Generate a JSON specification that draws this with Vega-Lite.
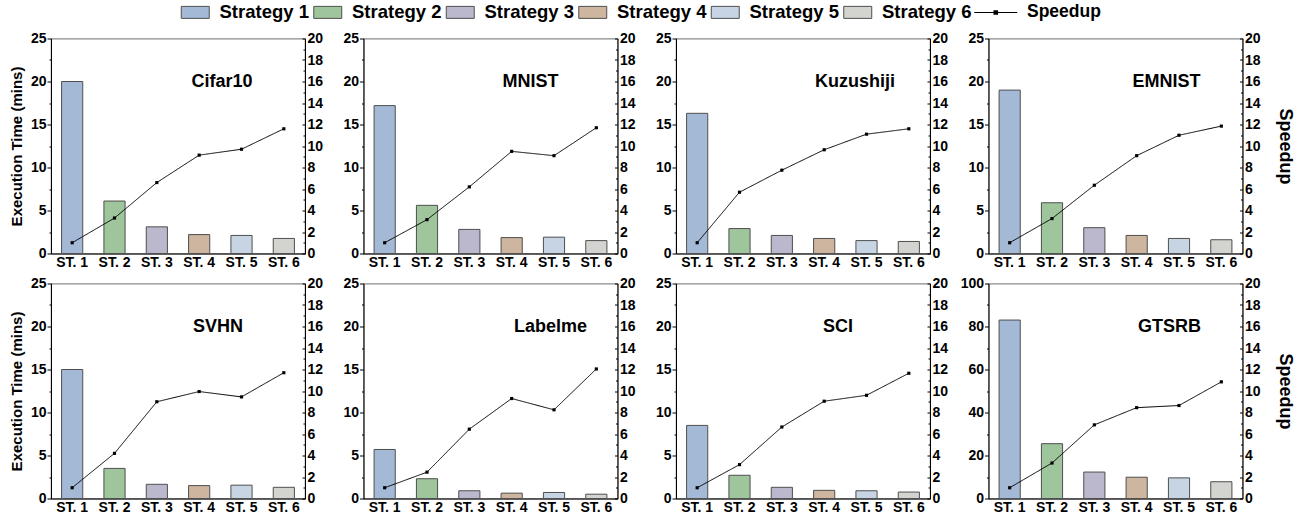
{
"$schema": "https://vega.github.io/schema/vega-lite/v6.json",
"padding": {"left": 8, "top": 2.5, "right": 5, "bottom": 5},
"data": {"values": [
{"ds":"Cifar10","st":"ST. 1","time":20.0,"speedup":1.0},
{"ds":"Cifar10","st":"ST. 2","time":6.1,"speedup":3.3},
{"ds":"Cifar10","st":"ST. 3","time":3.1,"speedup":6.6},
{"ds":"Cifar10","st":"ST. 4","time":2.2,"speedup":9.15},
{"ds":"Cifar10","st":"ST. 5","time":2.1,"speedup":9.7},
{"ds":"Cifar10","st":"ST. 6","time":1.75,"speedup":11.6},
{"ds":"MNIST","st":"ST. 1","time":17.2,"speedup":1.0},
{"ds":"MNIST","st":"ST. 2","time":5.6,"speedup":3.15},
{"ds":"MNIST","st":"ST. 3","time":2.8,"speedup":6.2},
{"ds":"MNIST","st":"ST. 4","time":1.85,"speedup":9.5},
{"ds":"MNIST","st":"ST. 5","time":1.9,"speedup":9.1},
{"ds":"MNIST","st":"ST. 6","time":1.5,"speedup":11.7},
{"ds":"Kuzushiji","st":"ST. 1","time":16.3,"speedup":1.0},
{"ds":"Kuzushiji","st":"ST. 2","time":2.9,"speedup":5.7},
{"ds":"Kuzushiji","st":"ST. 3","time":2.1,"speedup":7.75},
{"ds":"Kuzushiji","st":"ST. 4","time":1.75,"speedup":9.65},
{"ds":"Kuzushiji","st":"ST. 5","time":1.5,"speedup":11.1},
{"ds":"Kuzushiji","st":"ST. 6","time":1.4,"speedup":11.6},
{"ds":"EMNIST","st":"ST. 1","time":19.0,"speedup":1.0},
{"ds":"EMNIST","st":"ST. 2","time":5.9,"speedup":3.25},
{"ds":"EMNIST","st":"ST. 3","time":3.0,"speedup":6.35},
{"ds":"EMNIST","st":"ST. 4","time":2.1,"speedup":9.1},
{"ds":"EMNIST","st":"ST. 5","time":1.75,"speedup":11.0},
{"ds":"EMNIST","st":"ST. 6","time":1.6,"speedup":11.85},
{"ds":"SVHN","st":"ST. 1","time":15.0,"speedup":1.0},
{"ds":"SVHN","st":"ST. 2","time":3.5,"speedup":4.2},
{"ds":"SVHN","st":"ST. 3","time":1.65,"speedup":9.0},
{"ds":"SVHN","st":"ST. 4","time":1.5,"speedup":9.95},
{"ds":"SVHN","st":"ST. 5","time":1.55,"speedup":9.45},
{"ds":"SVHN","st":"ST. 6","time":1.3,"speedup":11.7},
{"ds":"Labelme","st":"ST. 1","time":5.7,"speedup":1.0},
{"ds":"Labelme","st":"ST. 2","time":2.3,"speedup":2.45},
{"ds":"Labelme","st":"ST. 3","time":0.9,"speedup":6.45},
{"ds":"Labelme","st":"ST. 4","time":0.62,"speedup":9.3},
{"ds":"Labelme","st":"ST. 5","time":0.7,"speedup":8.25},
{"ds":"Labelme","st":"ST. 6","time":0.5,"speedup":12.05},
{"ds":"SCI","st":"ST. 1","time":8.5,"speedup":1.0},
{"ds":"SCI","st":"ST. 2","time":2.7,"speedup":3.15},
{"ds":"SCI","st":"ST. 3","time":1.3,"speedup":6.65},
{"ds":"SCI","st":"ST. 4","time":0.95,"speedup":9.05},
{"ds":"SCI","st":"ST. 5","time":0.9,"speedup":9.6},
{"ds":"SCI","st":"ST. 6","time":0.75,"speedup":11.65},
{"ds":"GTSRB","st":"ST. 1","time":83.0,"speedup":1.0},
{"ds":"GTSRB","st":"ST. 2","time":25.5,"speedup":3.3},
{"ds":"GTSRB","st":"ST. 3","time":12.3,"speedup":6.85},
{"ds":"GTSRB","st":"ST. 4","time":9.9,"speedup":8.45},
{"ds":"GTSRB","st":"ST. 5","time":9.6,"speedup":8.65},
{"ds":"GTSRB","st":"ST. 6","time":7.8,"speedup":10.85}
]},
"bounds": "flush",
"columns": 4,
"spacing": {"row": 30, "column": 58.5},
"concat": [
{"width":254,"height":215,"title":{"text":"Cifar10","dx":44,"offset":-59},
 "transform":[{"filter":"datum.ds === 'Cifar10'"}],
 "layer":[
  {"mark":{"type":"bar","stroke":"#4f4f4f","strokeWidth":1},
   "encoding":{"x":{"field":"st","type":"nominal","scale":{"paddingInner":0.5,"paddingOuter":0.25}},
    "y":{"field":"time","type":"quantitative","scale":{"domain":[0,25],"nice":false},"axis":{"values":[0,5,10,15,20,25],"title":"Execution Time (mins)"}},
    "color":{"field":"st","type":"nominal","scale":{"domain":["ST. 1","ST. 2","ST. 3","ST. 4","ST. 5","ST. 6"],"range":["#a4b9d6","#9ec59b","#bbb7cc","#cdb59f","#c6d4e4","#d3d3cf"]},
     "legend":{"title":null,"orient":"none","legendX":135,"legendY":-35.5,"direction":"horizontal","labelExpr":"'Strategy ' + slice(datum.label, 4)","symbolType":"M-2.333,-1H2.333V1H-2.333Z","symbolSize":144,"symbolStrokeColor":"#4f4f4f","symbolStrokeWidth":1,"symbolOpacity":1,"labelOffset":15,"labelFontSize":18.5,"columnPadding":2.5,"padding":0}}}},
  {"mark":{"type":"line","color":"#000","strokeWidth":1,"point":{"shape":"square","size":10,"filled":true,"color":"#000"}},
   "encoding":{"x":{"field":"st","type":"nominal"},
    "y":{"field":"speedup","type":"quantitative","scale":{"domain":[0,20],"nice":false},"axis":{"orient":"right","values":[0,2,4,6,8,10,12,14,16,18,20],"title":null}},
    "strokeDash":{"datum":"Speedup","type":"nominal","scale":{"domain":["Speedup"],"range":[[1,0]]},
     "legend":{"title":null,"orient":"none","legendX":936,"legendY":-34.8,"direction":"horizontal","symbolType":"M-3.583,-0.09H3.583V0.09H-3.583ZM-0.38,-0.38H0.38V0.38H-0.38Z","symbolSize":144,"symbolFillColor":"#000","symbolStrokeColor":"#000","symbolStrokeWidth":0,"symbolOpacity":1,"labelOffset":22.5,"labelFontSize":17.5,"padding":0}}}},
  {"mark":{"type":"point","opacity":0},
   "encoding":{"x":{"field":"st","type":"nominal"},"y":{"field":"time","type":"quantitative","scale":{"domain":[0,25],"nice":false},"axis":{"orient":"left","values":[2.5,7.5,12.5,17.5,22.5],"labels":false,"domain":false,"tickSize":2,"title":null}}}},
  {"mark":{"type":"point","opacity":0},
   "encoding":{"x":{"field":"st","type":"nominal"},"y":{"field":"speedup","type":"quantitative","scale":{"domain":[0,20],"nice":false},"axis":{"orient":"right","values":[1,3,5,7,9,11,13,15,17,19],"labels":false,"domain":false,"tickSize":-2,"title":null}}}}
 ],
 "resolve":{"scale":{"y":"independent"}}},
{"width":254,"height":215,"title":{"text":"MNIST","dx":40,"offset":-59},
 "transform":[{"filter":"datum.ds === 'MNIST'"}],
 "layer":[
  {"mark":{"type":"bar","stroke":"#4f4f4f","strokeWidth":1},
   "encoding":{"x":{"field":"st","type":"nominal","scale":{"paddingInner":0.5,"paddingOuter":0.25}},
    "y":{"field":"time","type":"quantitative","scale":{"domain":[0,25],"nice":false},"axis":{"values":[0,5,10,15,20,25],"title":null}},
    "color":{"field":"st","type":"nominal","scale":{"domain":["ST. 1","ST. 2","ST. 3","ST. 4","ST. 5","ST. 6"],"range":["#a4b9d6","#9ec59b","#bbb7cc","#cdb59f","#c6d4e4","#d3d3cf"]},"legend":null}}},
  {"mark":{"type":"line","color":"#000","strokeWidth":1,"point":{"shape":"square","size":10,"filled":true,"color":"#000"}},
   "encoding":{"x":{"field":"st","type":"nominal"},
    "y":{"field":"speedup","type":"quantitative","scale":{"domain":[0,20],"nice":false},"axis":{"orient":"right","values":[0,2,4,6,8,10,12,14,16,18,20],"title":null}},
    "strokeDash":{"datum":"Speedup","type":"nominal","scale":{"domain":["Speedup"],"range":[[1,0]]},"legend":null}}},
  {"mark":{"type":"point","opacity":0},
   "encoding":{"x":{"field":"st","type":"nominal"},"y":{"field":"time","type":"quantitative","scale":{"domain":[0,25],"nice":false},"axis":{"orient":"left","values":[2.5,7.5,12.5,17.5,22.5],"labels":false,"domain":false,"tickSize":2,"title":null}}}},
  {"mark":{"type":"point","opacity":0},
   "encoding":{"x":{"field":"st","type":"nominal"},"y":{"field":"speedup","type":"quantitative","scale":{"domain":[0,20],"nice":false},"axis":{"orient":"right","values":[1,3,5,7,9,11,13,15,17,19],"labels":false,"domain":false,"tickSize":-2,"title":null}}}}
 ],
 "resolve":{"scale":{"y":"independent"}}},
{"width":254,"height":215,"title":{"text":"Kuzushiji","dx":52,"offset":-59},
 "transform":[{"filter":"datum.ds === 'Kuzushiji'"}],
 "layer":[
  {"mark":{"type":"bar","stroke":"#4f4f4f","strokeWidth":1},
   "encoding":{"x":{"field":"st","type":"nominal","scale":{"paddingInner":0.5,"paddingOuter":0.25}},
    "y":{"field":"time","type":"quantitative","scale":{"domain":[0,25],"nice":false},"axis":{"values":[0,5,10,15,20,25],"title":null}},
    "color":{"field":"st","type":"nominal","scale":{"domain":["ST. 1","ST. 2","ST. 3","ST. 4","ST. 5","ST. 6"],"range":["#a4b9d6","#9ec59b","#bbb7cc","#cdb59f","#c6d4e4","#d3d3cf"]},"legend":null}}},
  {"mark":{"type":"line","color":"#000","strokeWidth":1,"point":{"shape":"square","size":10,"filled":true,"color":"#000"}},
   "encoding":{"x":{"field":"st","type":"nominal"},
    "y":{"field":"speedup","type":"quantitative","scale":{"domain":[0,20],"nice":false},"axis":{"orient":"right","values":[0,2,4,6,8,10,12,14,16,18,20],"title":null}},
    "strokeDash":{"datum":"Speedup","type":"nominal","scale":{"domain":["Speedup"],"range":[[1,0]]},"legend":null}}},
  {"mark":{"type":"point","opacity":0},
   "encoding":{"x":{"field":"st","type":"nominal"},"y":{"field":"time","type":"quantitative","scale":{"domain":[0,25],"nice":false},"axis":{"orient":"left","values":[2.5,7.5,12.5,17.5,22.5],"labels":false,"domain":false,"tickSize":2,"title":null}}}},
  {"mark":{"type":"point","opacity":0},
   "encoding":{"x":{"field":"st","type":"nominal"},"y":{"field":"speedup","type":"quantitative","scale":{"domain":[0,20],"nice":false},"axis":{"orient":"right","values":[1,3,5,7,9,11,13,15,17,19],"labels":false,"domain":false,"tickSize":-2,"title":null}}}}
 ],
 "resolve":{"scale":{"y":"independent"}}},
{"width":254,"height":215,"title":{"text":"EMNIST","dx":51,"offset":-59},
 "transform":[{"filter":"datum.ds === 'EMNIST'"}],
 "layer":[
  {"mark":{"type":"bar","stroke":"#4f4f4f","strokeWidth":1},
   "encoding":{"x":{"field":"st","type":"nominal","scale":{"paddingInner":0.5,"paddingOuter":0.25}},
    "y":{"field":"time","type":"quantitative","scale":{"domain":[0,25],"nice":false},"axis":{"values":[0,5,10,15,20,25],"title":null}},
    "color":{"field":"st","type":"nominal","scale":{"domain":["ST. 1","ST. 2","ST. 3","ST. 4","ST. 5","ST. 6"],"range":["#a4b9d6","#9ec59b","#bbb7cc","#cdb59f","#c6d4e4","#d3d3cf"]},"legend":null}}},
  {"mark":{"type":"line","color":"#000","strokeWidth":1,"point":{"shape":"square","size":10,"filled":true,"color":"#000"}},
   "encoding":{"x":{"field":"st","type":"nominal"},
    "y":{"field":"speedup","type":"quantitative","scale":{"domain":[0,20],"nice":false},"axis":{"orient":"right","values":[0,2,4,6,8,10,12,14,16,18,20],"title":"Speedup"}},
    "strokeDash":{"datum":"Speedup","type":"nominal","scale":{"domain":["Speedup"],"range":[[1,0]]},"legend":null}}},
  {"mark":{"type":"point","opacity":0},
   "encoding":{"x":{"field":"st","type":"nominal"},"y":{"field":"time","type":"quantitative","scale":{"domain":[0,25],"nice":false},"axis":{"orient":"left","values":[2.5,7.5,12.5,17.5,22.5],"labels":false,"domain":false,"tickSize":2,"title":null}}}},
  {"mark":{"type":"point","opacity":0},
   "encoding":{"x":{"field":"st","type":"nominal"},"y":{"field":"speedup","type":"quantitative","scale":{"domain":[0,20],"nice":false},"axis":{"orient":"right","values":[1,3,5,7,9,11,13,15,17,19],"labels":false,"domain":false,"tickSize":-2,"title":null}}}}
 ],
 "resolve":{"scale":{"y":"independent"}}},
{"width":254,"height":215,"title":{"text":"SVHN","dx":40,"offset":-59},
 "transform":[{"filter":"datum.ds === 'SVHN'"}],
 "layer":[
  {"mark":{"type":"bar","stroke":"#4f4f4f","strokeWidth":1},
   "encoding":{"x":{"field":"st","type":"nominal","scale":{"paddingInner":0.5,"paddingOuter":0.25}},
    "y":{"field":"time","type":"quantitative","scale":{"domain":[0,25],"nice":false},"axis":{"values":[0,5,10,15,20,25],"title":"Execution Time (mins)"}},
    "color":{"field":"st","type":"nominal","scale":{"domain":["ST. 1","ST. 2","ST. 3","ST. 4","ST. 5","ST. 6"],"range":["#a4b9d6","#9ec59b","#bbb7cc","#cdb59f","#c6d4e4","#d3d3cf"]},"legend":null}}},
  {"mark":{"type":"line","color":"#000","strokeWidth":1,"point":{"shape":"square","size":10,"filled":true,"color":"#000"}},
   "encoding":{"x":{"field":"st","type":"nominal"},
    "y":{"field":"speedup","type":"quantitative","scale":{"domain":[0,20],"nice":false},"axis":{"orient":"right","values":[0,2,4,6,8,10,12,14,16,18,20],"title":null}},
    "strokeDash":{"datum":"Speedup","type":"nominal","scale":{"domain":["Speedup"],"range":[[1,0]]},"legend":null}}},
  {"mark":{"type":"point","opacity":0},
   "encoding":{"x":{"field":"st","type":"nominal"},"y":{"field":"time","type":"quantitative","scale":{"domain":[0,25],"nice":false},"axis":{"orient":"left","values":[2.5,7.5,12.5,17.5,22.5],"labels":false,"domain":false,"tickSize":2,"title":null}}}},
  {"mark":{"type":"point","opacity":0},
   "encoding":{"x":{"field":"st","type":"nominal"},"y":{"field":"speedup","type":"quantitative","scale":{"domain":[0,20],"nice":false},"axis":{"orient":"right","values":[1,3,5,7,9,11,13,15,17,19],"labels":false,"domain":false,"tickSize":-2,"title":null}}}}
 ],
 "resolve":{"scale":{"y":"independent"}}},
{"width":254,"height":215,"title":{"text":"Labelme","dx":60,"offset":-59},
 "transform":[{"filter":"datum.ds === 'Labelme'"}],
 "layer":[
  {"mark":{"type":"bar","stroke":"#4f4f4f","strokeWidth":1},
   "encoding":{"x":{"field":"st","type":"nominal","scale":{"paddingInner":0.5,"paddingOuter":0.25}},
    "y":{"field":"time","type":"quantitative","scale":{"domain":[0,25],"nice":false},"axis":{"values":[0,5,10,15,20,25],"title":null}},
    "color":{"field":"st","type":"nominal","scale":{"domain":["ST. 1","ST. 2","ST. 3","ST. 4","ST. 5","ST. 6"],"range":["#a4b9d6","#9ec59b","#bbb7cc","#cdb59f","#c6d4e4","#d3d3cf"]},"legend":null}}},
  {"mark":{"type":"line","color":"#000","strokeWidth":1,"point":{"shape":"square","size":10,"filled":true,"color":"#000"}},
   "encoding":{"x":{"field":"st","type":"nominal"},
    "y":{"field":"speedup","type":"quantitative","scale":{"domain":[0,20],"nice":false},"axis":{"orient":"right","values":[0,2,4,6,8,10,12,14,16,18,20],"title":null}},
    "strokeDash":{"datum":"Speedup","type":"nominal","scale":{"domain":["Speedup"],"range":[[1,0]]},"legend":null}}},
  {"mark":{"type":"point","opacity":0},
   "encoding":{"x":{"field":"st","type":"nominal"},"y":{"field":"time","type":"quantitative","scale":{"domain":[0,25],"nice":false},"axis":{"orient":"left","values":[2.5,7.5,12.5,17.5,22.5],"labels":false,"domain":false,"tickSize":2,"title":null}}}},
  {"mark":{"type":"point","opacity":0},
   "encoding":{"x":{"field":"st","type":"nominal"},"y":{"field":"speedup","type":"quantitative","scale":{"domain":[0,20],"nice":false},"axis":{"orient":"right","values":[1,3,5,7,9,11,13,15,17,19],"labels":false,"domain":false,"tickSize":-2,"title":null}}}}
 ],
 "resolve":{"scale":{"y":"independent"}}},
{"width":254,"height":215,"title":{"text":"SCI","dx":35,"offset":-59},
 "transform":[{"filter":"datum.ds === 'SCI'"}],
 "layer":[
  {"mark":{"type":"bar","stroke":"#4f4f4f","strokeWidth":1},
   "encoding":{"x":{"field":"st","type":"nominal","scale":{"paddingInner":0.5,"paddingOuter":0.25}},
    "y":{"field":"time","type":"quantitative","scale":{"domain":[0,25],"nice":false},"axis":{"values":[0,5,10,15,20,25],"title":null}},
    "color":{"field":"st","type":"nominal","scale":{"domain":["ST. 1","ST. 2","ST. 3","ST. 4","ST. 5","ST. 6"],"range":["#a4b9d6","#9ec59b","#bbb7cc","#cdb59f","#c6d4e4","#d3d3cf"]},"legend":null}}},
  {"mark":{"type":"line","color":"#000","strokeWidth":1,"point":{"shape":"square","size":10,"filled":true,"color":"#000"}},
   "encoding":{"x":{"field":"st","type":"nominal"},
    "y":{"field":"speedup","type":"quantitative","scale":{"domain":[0,20],"nice":false},"axis":{"orient":"right","values":[0,2,4,6,8,10,12,14,16,18,20],"title":null}},
    "strokeDash":{"datum":"Speedup","type":"nominal","scale":{"domain":["Speedup"],"range":[[1,0]]},"legend":null}}},
  {"mark":{"type":"point","opacity":0},
   "encoding":{"x":{"field":"st","type":"nominal"},"y":{"field":"time","type":"quantitative","scale":{"domain":[0,25],"nice":false},"axis":{"orient":"left","values":[2.5,7.5,12.5,17.5,22.5],"labels":false,"domain":false,"tickSize":2,"title":null}}}},
  {"mark":{"type":"point","opacity":0},
   "encoding":{"x":{"field":"st","type":"nominal"},"y":{"field":"speedup","type":"quantitative","scale":{"domain":[0,20],"nice":false},"axis":{"orient":"right","values":[1,3,5,7,9,11,13,15,17,19],"labels":false,"domain":false,"tickSize":-2,"title":null}}}}
 ],
 "resolve":{"scale":{"y":"independent"}}},
{"width":254,"height":215,"title":{"text":"GTSRB","dx":54,"offset":-59},
 "transform":[{"filter":"datum.ds === 'GTSRB'"}],
 "layer":[
  {"mark":{"type":"bar","stroke":"#4f4f4f","strokeWidth":1},
   "encoding":{"x":{"field":"st","type":"nominal","scale":{"paddingInner":0.5,"paddingOuter":0.25}},
    "y":{"field":"time","type":"quantitative","scale":{"domain":[0,100],"nice":false},"axis":{"values":[0,20,40,60,80,100],"title":null}},
    "color":{"field":"st","type":"nominal","scale":{"domain":["ST. 1","ST. 2","ST. 3","ST. 4","ST. 5","ST. 6"],"range":["#a4b9d6","#9ec59b","#bbb7cc","#cdb59f","#c6d4e4","#d3d3cf"]},"legend":null}}},
  {"mark":{"type":"line","color":"#000","strokeWidth":1,"point":{"shape":"square","size":10,"filled":true,"color":"#000"}},
   "encoding":{"x":{"field":"st","type":"nominal"},
    "y":{"field":"speedup","type":"quantitative","scale":{"domain":[0,20],"nice":false},"axis":{"orient":"right","values":[0,2,4,6,8,10,12,14,16,18,20],"title":"Speedup"}},
    "strokeDash":{"datum":"Speedup","type":"nominal","scale":{"domain":["Speedup"],"range":[[1,0]]},"legend":null}}},
  {"mark":{"type":"point","opacity":0},
   "encoding":{"x":{"field":"st","type":"nominal"},"y":{"field":"time","type":"quantitative","scale":{"domain":[0,100],"nice":false},"axis":{"orient":"left","values":[10,30,50,70,90],"labels":false,"domain":false,"tickSize":2,"title":null}}}},
  {"mark":{"type":"point","opacity":0},
   "encoding":{"x":{"field":"st","type":"nominal"},"y":{"field":"speedup","type":"quantitative","scale":{"domain":[0,20],"nice":false},"axis":{"orient":"right","values":[1,3,5,7,9,11,13,15,17,19],"labels":false,"domain":false,"tickSize":-2,"title":null}}}}
 ],
 "resolve":{"scale":{"y":"independent"}}}
],
"config": {
 "font": "Liberation Sans",
 "view": {"stroke": "#8a8a8a", "strokeWidth": 1.2},
 "axis": {"labelFont": "Liberation Sans", "labelFontSize": 14, "labelFontWeight": "bold", "labelColor": "#000", "titleFont": "Liberation Sans", "titleFontSize": 15, "titleFontWeight": "bold", "titleColor": "#000", "domainColor": "#000", "tickColor": "#000", "grid": false, "domainWidth": 1, "tickWidth": 1},
 "axisX": {"labelAngle": 0, "title": null, "tickSize": -3, "labelPadding": 5, "labelFontSize": 14},
 "axisLeft": {"tickSize": 4, "labelPadding": 1, "titlePadding": 6},
 "axisRight": {"tickSize": -3, "labelPadding": 5, "titlePadding": 15, "titleFontSize": 18},
 "legend": {"labelFont": "Liberation Sans", "labelFontSize": 19, "labelFontWeight": "bold", "labelColor": "#000"},
 "title": {"font": "Liberation Sans", "fontSize": 18, "fontWeight": "bold", "color": "#000", "anchor": "middle", "frame": "group"}
}
}
